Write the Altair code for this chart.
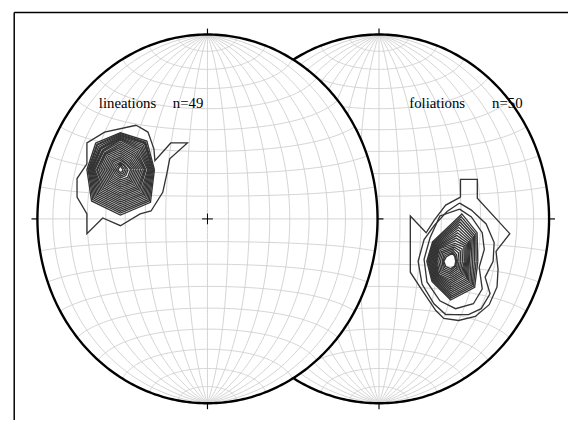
import numpy as np
import pandas as pd
import altair as alt

# ---------------- data (net coordinates, percent of net radius: east, north) ----------------
NET_TITLES = ["lineations", "foliations"]
NET_COUNTS = ["n=49", "n=50"]

# lineations: outermost contour (with NE arm and SW spike)
LIN_OUTER = [(-41.9, 50.8), (-35.0, 47.1), (-31.5, 38.0), (-30.9, 31.6), (-21.6, 41.2),
             (-11.8, 41.2), (-22.2, 32.6), (-23.9, 24.6), (-26.3, 14.4), (-33.2, 4.3),
             (-39.6, 2.7), (-51.2, -3.7), (-61.6, 0.5), (-70.9, -8.0), (-70.9, 2.7),
             (-76.7, 11.8), (-76.7, 21.9), (-70.9, 29.9), (-70.9, 41.2), (-60.5, 47.1)]
LIN_CENTER = (-51.2, 26.7)
# inner contours: radii towards E, NE, N, NW, W, SW, S, SE
LIN_RADII = [
    [20, 22, 20, 20.5, 19.7, 24, 24.6, 25],
    [19.5, 21, 19.5, 19.5, 19, 23, 23.5, 24],
    [19, 20.5, 19, 19, 18.5, 22, 22.5, 23],
    [18.5, 20, 18.5, 18, 18, 21, 21.5, 22],
    [18, 19, 18, 17, 17.5, 20, 20.5, 21],
    [17.5, 18, 17.5, 16.5, 17, 19, 19.5, 20],
    [17, 17, 17, 16, 16.5, 18, 18.5, 19],
    [16.5, 16, 16.5, 15, 16, 17, 17.5, 18],
    [16, 15, 16, 14.5, 15.5, 16, 16.5, 17],
    [15, 14, 15, 14, 15, 15, 15.5, 16],
    [14.5, 13, 14, 13, 14, 14, 14.5, 15],
    [14, 12, 13, 12.5, 13.5, 13, 13.5, 14],
    [13, 11, 12, 12, 12.5, 12, 12.5, 13],
    [12, 10, 11, 11, 11.5, 11, 11.5, 12],
    [11, 9, 10, 10, 10.5, 10, 10.5, 11],
    [10, 8, 9, 9, 9.5, 9, 9.5, 10],
    [9, 7, 8, 8, 8.5, 8, 8.5, 9],
    [8, 6, 7, 7, 7.5, 7, 7.5, 8],
    [7, 5, 6, 6, 6.5, 6, 6.5, 7],
    [6, 4.5, 5, 5, 5.5, 5, 5.5, 6],
    [4.5, 3.5, 4, 4, 4.5, 4, 4.5, 4.5],
    [3.5, 3, 3.5, 3, 3.5, 3, 3.5, 3.5],
    [2.5, 2, 3, 2, 2.5, 2, 2.5, 2.5],
    [1.5, 1.2, 2, 1.2, 1.5, 1.2, 1.5, 1.5],
]

# foliations: outer contours (with chimney at the top and flag at the left)
FOL_OUTER = [(47.9, 11.8), (47.9, 21.4), (57.8, 21.4), (57.8, 11.2), (76.9, -8.0),
             (68.8, -17.6), (70.0, -27.3), (69.4, -36.9), (64.8, -46.5), (56.6, -52.9),
             (46.8, -55.1), (38.1, -54.0), (33.4, -49.7), (24.8, -38.0), (18.4, -28.9),
             (18.4, 1.6), (27.7, -7.5), (32.6, -0.5), (39.2, 7.5)]
FOL_SECOND = [(47.4, 8.6), (54.3, 4.8), (63.0, -2.7), (67.7, -12.8), (67.1, -23.0),
              (62.4, -31.6), (65.3, -40.6), (60.1, -48.7), (52.6, -51.9), (39.2, -51.9),
              (32.3, -46.0), (25.3, -35.3), (23.0, -23.0), (26.5, -11.2), (32.5, -3.5),
              (40.0, 4.0)]
FOL_THIRD = [(47.4, 5.3), (54.3, 1.1), (60.7, -7.5), (61.9, -16.6), (58.9, -26.2),
             (60.7, -38.0), (55.5, -46.0), (45.0, -48.7), (35.8, -44.4), (28.2, -34.2),
             (26.5, -21.9), (30.0, -10.2), (35.8, 1.6)]
FOL_CENTER = (42.1, -23.0)
FOL_RADII = [
    [16, 22, 26.5, 15, 14, 15.5, 21, 20],
    [15, 21, 25, 14.5, 13.5, 15, 20, 19],
    [14, 20, 23.5, 14, 13, 14.5, 19, 18],
    [13, 19, 22, 13.5, 12.5, 14, 18, 17],
    [12, 18, 20.5, 13, 12, 13.5, 17, 16],
    [11, 17, 19, 12.5, 11.5, 13, 16, 15],
    [10.5, 16, 17.5, 12, 11, 12.5, 15, 14],
    [10, 15, 16, 11.5, 10.5, 12, 14, 13],
    [9.5, 14, 14.5, 11, 10, 11.5, 13, 12],
    [9, 13, 13, 10.5, 9.5, 11, 12, 11],
    [8.5, 12, 11.5, 10, 9, 10.5, 11, 10],
    [8, 11, 10, 9.5, 8.5, 10, 10, 9],
    [7, 9.5, 9, 8.5, 8, 9, 9, 8],
    [6, 8, 8, 7.5, 7, 8, 8, 7],
    [5, 6.5, 7, 6.5, 6, 7, 7, 6],
    [4, 5, 6, 5.5, 5, 6, 6, 5],
    [3.5, 4, 5, 4.5, 4.5, 5, 5, 4],
    [3, 3.5, 4.5, 3.5, 4, 4, 4, 3.5],
]

# ---------------- layout ----------------
CW, CH = 568, 415
NET_OFFSETS = [0.0, 1.0087]          # centre of each net, in net radii along x
X_DOMAIN = [-1.173, 2.120]
Y_DOMAIN = [-1.091, 1.128]
TICK_U, TICK_V = 0.035, 0.032
XS = alt.Scale(domain=X_DOMAIN, zero=False, nice=False)
YS = alt.Scale(domain=Y_DOMAIN, zero=False, nice=False)

GRID_COLOR = "#cfcfcf"
CONTOUR_COLOR = "#333333"
CONTOUR_WIDTH = 1.35


def proj(phi, lam):
    p, l = np.radians(phi), np.radians(lam)
    k = 1.0 / np.sqrt(1.0 + np.cos(p) * np.cos(l))
    return k * np.cos(p) * np.sin(l), k * np.sin(p)


def grid_df(off):
    rows = []
    t = np.linspace(-90, 90, 121)
    for lam in range(-80, 81, 10):
        xs, ys = proj(t, lam)
        for i, (a, b) in enumerate(zip(xs, ys)):
            rows.append(dict(g=f"m{lam}", i=i, x=a + off, y=b))
    for phi in range(-80, 81, 10):
        xs, ys = proj(phi, t)
        for i, (a, b) in enumerate(zip(xs, ys)):
            rows.append(dict(g=f"p{phi}", i=i, x=a + off, y=b))
    return pd.DataFrame(rows)


def circle_df(off):
    th = np.radians(np.arange(0, 361, 1))
    return pd.DataFrame(dict(i=np.arange(len(th)), x=np.cos(th) + off, y=np.sin(th)))


def fill_df(off):
    th = np.radians(np.linspace(-90, 90, 181))
    return pd.DataFrame(dict(x=np.sin(th) + off, y=np.cos(th), y2=-np.cos(th)))


def ticks_df(off, sides):
    segs = {
        "N": (0, 1, 0, 1 + TICK_V), "S": (0, -1, 0, -1 - TICK_V),
        "E": (1, 0, 1 + TICK_U, 0), "W": (-1, 0, -1 - TICK_U, 0),
    }
    rows = []
    for s in sides:
        a, b, c, d = segs[s]
        rows.append(dict(x=a + off, y=b, x2=c + off, y2=d))
    return pd.DataFrame(rows)


DIRS_L = [(1, 0), (0.7071, 0.7071), (0, 1), (-0.7071, 0.7071),
          (-1, 0), (-0.7071, -0.7071), (0, -1), (0.7071, -0.7071)]
# the foliation maximum leans to the north-east at its top
DIRS_R = [(1, 0), (0.7071, 0.7071), (0.25, 0.97), (-0.7071, 0.7071),
          (-1, 0), (-0.7071, -0.7071), (0, -1), (0.7071, -0.7071)]


def contour_df(off, polys, center, radii, dirs, tag):
    rows = []
    allpolys = list(polys)
    for r in radii:
        allpolys.append([(center[0] + ri * dx, center[1] + ri * dy) for ri, (dx, dy) in zip(r, dirs)])
    for k, poly in enumerate(allpolys):
        pts = list(poly) + [poly[0]]
        for i, (u, v) in enumerate(pts):
            rows.append(dict(c=f"{tag}{k}", i=i, x=off + u / 100.0, y=v / 100.0))
    return pd.DataFrame(rows)


def enc_line(df, color, width, detail):
    return alt.Chart(df).mark_line(color=color, strokeWidth=width).encode(
        x=alt.X("x:Q", scale=XS, axis=None),
        y=alt.Y("y:Q", scale=YS, axis=None),
        detail=f"{detail}:N",
        order="i:Q",
    )


def enc_rule(df, color, width):
    return alt.Chart(df).mark_rule(color=color, strokeWidth=width).encode(
        x=alt.X("x:Q", scale=XS, axis=None), x2="x2:Q",
        y=alt.Y("y:Q", scale=YS, axis=None), y2="y2:Q",
    )


L, R = NET_OFFSETS

layers = []
# right net (underneath)
layers.append(enc_line(grid_df(R), GRID_COLOR, 0.9, "g"))
layers.append(enc_line(circle_df(R).assign(g="c"), "black", 2.4, "g"))
layers.append(enc_rule(ticks_df(R, "NSEW"), "black", 1.2))
layers.append(enc_line(contour_df(R, [FOL_OUTER, FOL_SECOND, FOL_THIRD], FOL_CENTER, FOL_RADII, DIRS_R, "f"),
                       CONTOUR_COLOR, CONTOUR_WIDTH, "c"))
# left net on top
layers.append(alt.Chart(fill_df(L)).mark_area(color="white", opacity=1, orient="vertical").encode(
    x=alt.X("x:Q", scale=XS, axis=None),
    y=alt.Y("y:Q", scale=YS, axis=None), y2="y2:Q"))
layers.append(enc_line(grid_df(L), GRID_COLOR, 0.9, "g"))
layers.append(enc_line(circle_df(L).assign(g="c"), "black", 2.4, "g"))
layers.append(enc_rule(ticks_df(L, "NSEW"), "black", 1.2))
cross = pd.DataFrame([dict(x=L - 0.032, y=0, x2=L + 0.032, y2=0),
                      dict(x=L, y=-0.029, x2=L, y2=0.029)])
layers.append(enc_rule(cross, "black", 1.0))
layers.append(enc_line(contour_df(L, [LIN_OUTER], LIN_CENTER, LIN_RADII, DIRS_L, "l"),
                       CONTOUR_COLOR, CONTOUR_WIDTH, "c"))

# labels
labels = pd.DataFrame([
    dict(x=L - 0.639, y=0.599, t=NET_TITLES[0]),
    dict(x=L - 0.204, y=0.599, t=NET_COUNTS[0]),
    dict(x=R + 0.178, y=0.599, t=NET_TITLES[1]),
    dict(x=R + 0.665, y=0.599, t=NET_COUNTS[1]),
])
layers.append(alt.Chart(labels).mark_text(align="left", baseline="alphabetic",
                                          font="Liberation Serif", fontSize=15, color="black").encode(
    x=alt.X("x:Q", scale=XS, axis=None), y=alt.Y("y:Q", scale=YS, axis=None), text="t:N"))

# frame (top and left edges)
layers.append(alt.Chart(pd.DataFrame({"a": [0]})).mark_rule(color="black", strokeWidth=1.5).encode(
    x=alt.value(6.3), x2=alt.value(CW), y=alt.value(1.5)))
layers.append(alt.Chart(pd.DataFrame({"a": [0]})).mark_rule(color="black", strokeWidth=1.5).encode(
    x=alt.value(6.3), y=alt.value(1.5), y2=alt.value(CH)))

chart = alt.layer(*layers).properties(
    width=CW, height=CH, padding=0, background="white",
    autosize=alt.AutoSizeParams(type="none"),
).configure_view(stroke=None)

chart.save("out.html", embed_options={"renderer": "svg", "actions": False})
